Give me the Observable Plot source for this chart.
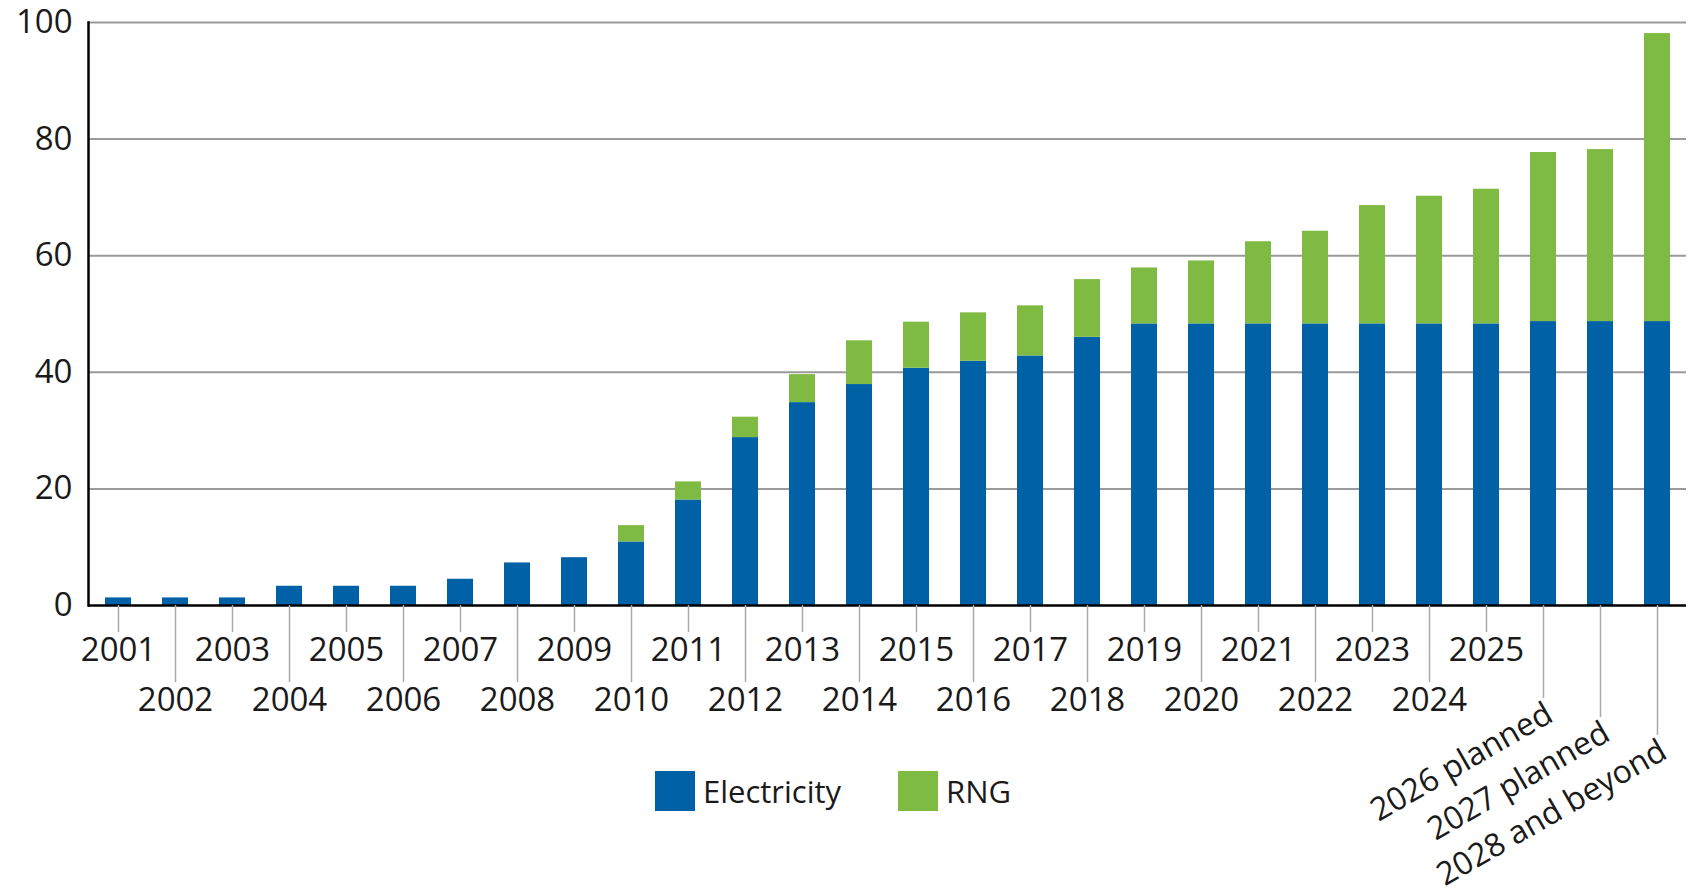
<!DOCTYPE html>
<html>
<head>
<meta charset="utf-8">
<script src="https://cdn.jsdelivr.net/npm/d3@7"></script>
<script src="https://cdn.jsdelivr.net/npm/@observablehq/plot@0.6"></script>
<style>
  html, body { margin: 0; padding: 0; background: #fff; }
  #wrap { position: relative; width: 1691px; height: 893px; font-family: "Open Sans", sans-serif; }
  #legend { position: absolute; left: 655px; top: 770px; display: flex; align-items: center; font-size: 31px; color: #1a1a1a; }
  #legend .item { display: flex; align-items: center; margin-right: 57px; }
  #legend .sw { width: 40px; height: 40px; margin-right: 8px; }
</style>
</head>
<body>
<div id="wrap"></div>
<script>
const categories = ["2001","2002","2003","2004","2005","2006","2007","2008","2009","2010",
  "2011","2012","2013","2014","2015","2016","2017","2018","2019","2020",
  "2021","2022","2023","2024","2025","2026 planned","2027 planned","2028 and beyond"];
const electricity = [1.3,1.3,1.3,3.3,3.3,3.3,4.5,7.3,8.2,10.9,
  18.1,28.8,34.8,37.9,40.7,41.9,42.8,46.0,48.3,48.3,
  48.3,48.3,48.3,48.3,48.3,48.7,48.7,48.7];
const rng = [0,0,0,0,0,0,0,0,0,2.8,
  3.1,3.5,4.8,7.5,7.9,8.3,8.6,9.9,9.6,10.8,
  14.1,15.9,20.3,21.9,23.1,29.0,29.5,49.4];
const seriesNames = ["Electricity","RNG"];
const seriesColors = ["#0061a7","#7fbb42"];
const yTicks = [0,20,40,60,80,100];

const rows = [];
categories.forEach((c, i) => {
  rows.push({cat: c, series: "Electricity", value: electricity[i]});
  rows.push({cat: c, series: "RNG", value: rng[i]});
});

const row1 = categories.filter((c, i) => i < 25 && i % 2 === 0);
const row2 = categories.filter((c, i) => i < 25 && i % 2 === 1);
const font = 33;
const rotFont = 32;
const tickColor = "#aaaaaa";

const chart = Plot.plot({
  width: 1691,
  height: 893,
  marginTop: 22,
  marginBottom: 288,
  marginLeft: 88,
  marginRight: 5,
  style: {fontFamily: "'Open Sans', sans-serif", color: "#1a1a1a", background: "#fff", overflow: "visible"},
  x: {domain: categories, paddingInner: 0.55, paddingOuter: 0.27},
  y: {domain: [0, 100]},
  color: {domain: seriesNames, range: seriesColors},
  marks: [
    Plot.gridY({ticks: yTicks.slice(1), stroke: "#9a9a9a", strokeOpacity: 1, strokeWidth: 2}),
    Plot.barY(rows, {x: "cat", y: "value", fill: "series"}),
    Plot.ruleY([0], {stroke: "#000", strokeWidth: 2.5}),
    Plot.frame({anchor: "left", stroke: "#000", strokeWidth: 2.5}),
    Plot.axisY({ticks: yTicks, tickSize: 0, tickPadding: 16, fontSize: font, label: null}),
    Plot.axisX({ticks: row1, tickSize: 27, tickPadding: 5, fontSize: font, stroke: tickColor, strokeWidth: 1.5, label: null}),
    Plot.axisX({ticks: row2, tickSize: 77, tickPadding: 5, fontSize: font, stroke: tickColor, strokeWidth: 1.5, label: null}),
    Plot.axisX({ticks: [categories[25]], tickSize: 93, tickPadding: 2, tickRotate: -30, textAnchor: "end", lineAnchor: "top", fontSize: rotFont, stroke: tickColor, strokeWidth: 1.5, label: null}),
    Plot.axisX({ticks: [categories[26]], tickSize: 112, tickPadding: 2, tickRotate: -30, textAnchor: "end", lineAnchor: "top", fontSize: rotFont, stroke: tickColor, strokeWidth: 1.5, label: null}),
    Plot.axisX({ticks: [categories[27]], tickSize: 130, tickPadding: 2, tickRotate: -30, textAnchor: "end", lineAnchor: "top", fontSize: rotFont, stroke: tickColor, strokeWidth: 1.5, label: null})
  ]
});

const wrap = document.getElementById("wrap");
wrap.appendChild(chart);

const legend = document.createElement("div");
legend.id = "legend";
seriesNames.forEach((name, i) => {
  const item = document.createElement("div");
  item.className = "item";
  const sw = document.createElement("div");
  sw.className = "sw";
  sw.style.background = seriesColors[i];
  const label = document.createElement("span");
  label.textContent = name;
  item.appendChild(sw);
  item.appendChild(label);
  legend.appendChild(item);
});
wrap.appendChild(legend);
</script>
</body>
</html>
